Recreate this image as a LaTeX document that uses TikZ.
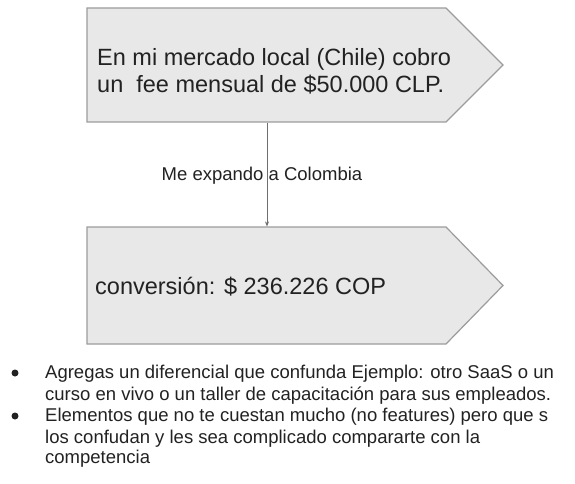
\documentclass[tikz,border=0pt]{standalone}
\usepackage{fontspec}
\setmainfont{Liberation Sans}
\usetikzlibrary{arrows.meta}
\definecolor{boxfill}{HTML}{E9E8E9}
\definecolor{boxline}{HTML}{9C9C9C}
\definecolor{ink}{HTML}{222222}
\definecolor{arrowline}{HTML}{6E6E6E}
\tikzset{
  signalbox/.style={draw=boxline, fill=boxfill, line width=1.2pt, line join=miter},
  boxtext/.style={anchor=base west, inner sep=0pt, text=ink, font=\fontsize{23.5}{28}\selectfont},
  labeltext/.style={anchor=base, inner sep=0pt, text=ink, font=\fontsize{18.5}{22}\selectfont},
  bullettext/.style={anchor=base west, inner sep=0pt, text=ink, font=\fontsize{18.5}{22}\selectfont},
  bulletdot/.style={fill=ink, circle, inner sep=0pt, minimum size=7pt},
  flow/.style={draw=arrowline, line width=0.8pt, -{Stealth[length=5pt, width=4pt]}}
}
\begin{document}
\begin{tikzpicture}[x=1pt, y=-1pt]
\useasboundingbox (0,0) rectangle (575,484);
\fill[white] (0,0) rectangle (575,484);
% boxes
\draw[signalbox] (87,8) -- (446,8) -- (503,65) -- (446,122) -- (87,122) -- cycle;
\draw[signalbox] (87,227) -- (446,227) -- (503,285.5) -- (446,344) -- (87,344) -- cycle;
\coordinate (topbottom) at (267,122.6);
\coordinate (bottomtop) at (267,226.4);
% box texts
\node[boxtext] (t1) at (97,65.5) {En mi mercado local (Chile) cobro};
\node[boxtext] (t2) at (97,93) {un\ \ fee mensual de \$50.000 CLP.};
\node[boxtext] (t3) at (95,294) {conversión: \$ 236.226 COP};
% connector
\draw[flow] (topbottom) -- (bottomtop);
\node[labeltext] (lab) at (262,180) {Me expando a Colombia};
% bullets
\node[bulletdot] (b1) at (15,373) {};
\node[bulletdot] (b2) at (15,416) {};
\node[bullettext] (l1) at (45,378) {Agregas un diferencial que confunda Ejemplo: otro SaaS o un};
\node[bullettext] (l2) at (45,400) {curso en vivo o un taller de capacitación para sus empleados.};
\node[bullettext] (l3) at (45,421) {Elementos que no te cuestan mucho (no features) pero que s};
\node[bullettext] (l4) at (45,443) {los confudan y les sea complicado compararte con la};
\node[bullettext] (l5) at (45,463) {competencia};
\end{tikzpicture}
\end{document}
